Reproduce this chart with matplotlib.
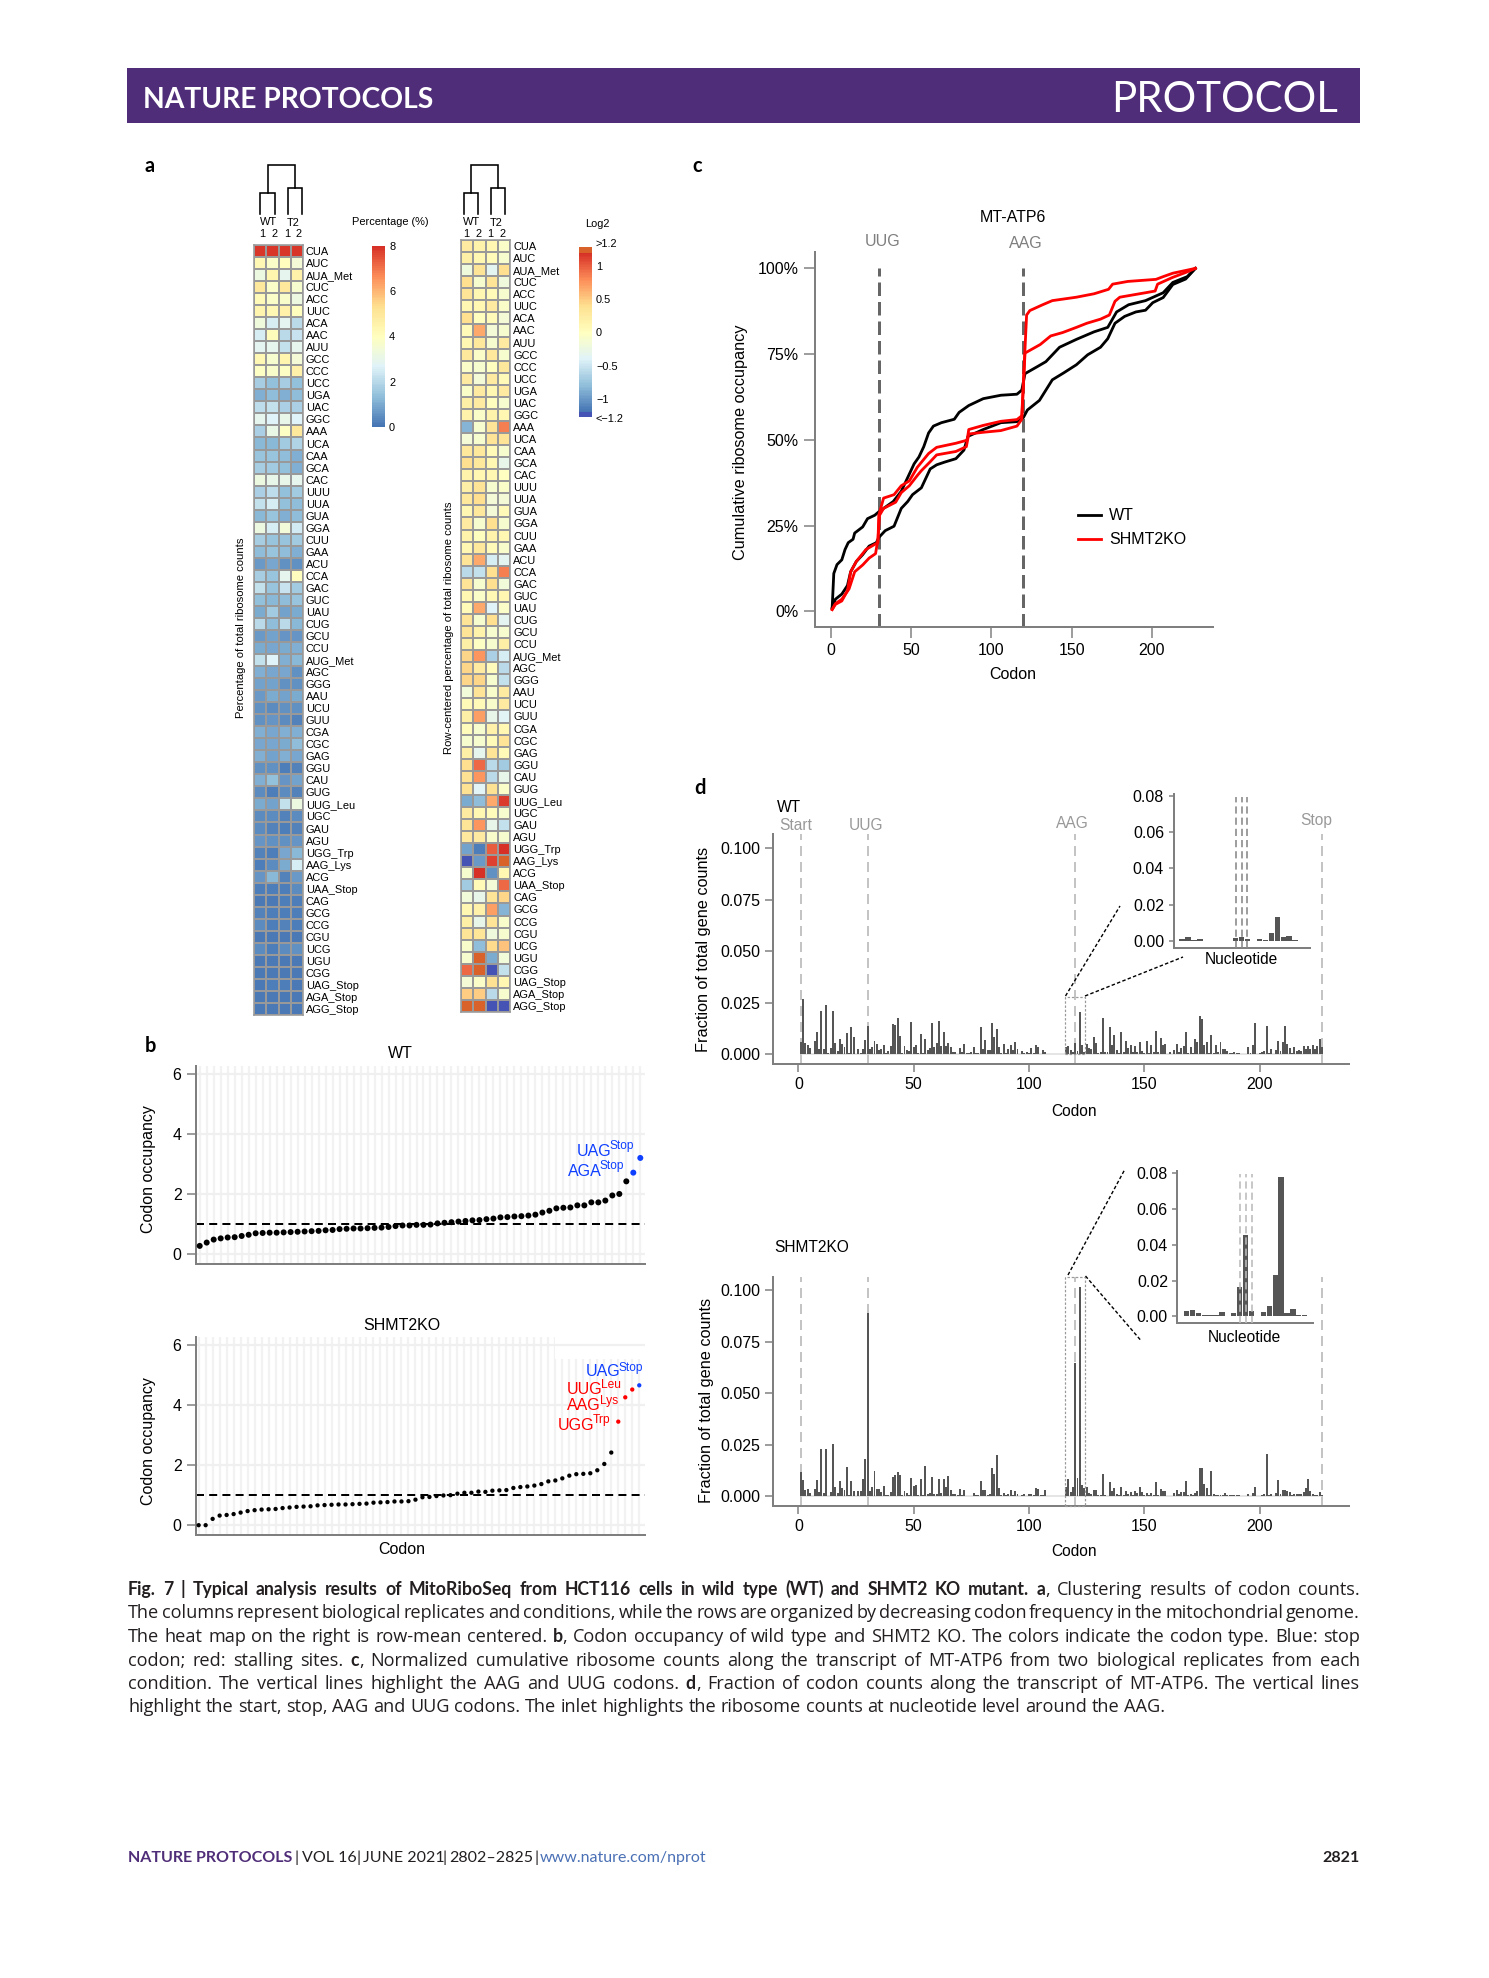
import re
import numpy as np
from matplotlib import pyplot as plt
from matplotlib.colors import LinearSegmentedColormap, Normalize
from matplotlib.lines import Line2D
from matplotlib.patches import Rectangle

W, H = 1489, 1978
plt.rcParams['font.family'] = ['Liberation Sans', 'DejaVu Sans']

### Data
codons = ['CUA','AUC','AUA_Met','CUC','ACC','UUC','ACA','AAC','AUU','GCC','CCC','UCC','UGA','UAC','GGC','AAA',
          'UCA','CAA','GCA','CAC','UUU','UUA','GUA','GGA','CUU','GAA','ACU','CCA','GAC','GUC','UAU','CUG',
          'GCU','CCU','AUG_Met','AGC','GGG','AAU','UCU','GUU','CGA','CGC','GAG','GGU','CAU','GUG','UUG_Leu','UGC',
          'GAU','AGU','UGG_Trp','AAG_Lys','ACG','UAA_Stop','CAG','GCG','CCG','CGU','UCG','UGU','CGG','UAG_Stop','AGA_Stop','AGG_Stop']

# percentage of total ribosome counts, columns WT1 WT2 T21 T22
pct_values = [[7.9,7.9,7.9,7.9],[4.3,3.8,4.0,3.5],[3.2,4.4,2.9,4.6],[5.0,3.8,5.0,3.6],[4.2,3.8,3.7,3.2],[4.4,4.3,4.6,4.0],
    [3.3,2.5,2.8,2.0],[2.5,4.1,2.0,2.3],[2.8,2.9,2.2,2.9],[4.3,3.6,4.4,3.5],[3.9,3.7,3.9,4.6],[1.7,1.4,1.7,1.4],
    [1.1,1.3,1.1,1.3],[2.1,2.2,1.8,1.8],[2.9,2.7,3.0,2.7],[1.8,3.1,3.9,5.0],[1.2,1.2,1.6,1.9],[1.5,1.5,1.3,1.1],
    [1.7,1.6,1.4,1.1],[3.2,3.0,3.0,2.9],[1.8,2.1,1.4,1.6],[2.2,2.5,1.4,1.3],[1.2,1.5,1.1,1.3],[3.2,2.5,3.4,2.4],
    [1.7,1.5,1.5,1.6],[1.3,1.5,1.3,1.1],[0.7,0.9,0.5,0.5],[1.7,1.5,2.9,4.0],[2.2,1.5,2.3,1.6],[1.4,1.2,1.3,1.5],
    [1.0,1.6,0.8,1.0],[2.0,1.3,2.0,1.2],[0.7,0.8,0.6,0.6],[1.0,0.9,1.0,1.1],[2.2,2.7,1.1,1.2],[1.1,0.9,0.9,0.5],
    [0.8,0.8,0.5,0.5],[0.7,1.0,0.8,1.0],[0.5,0.4,0.5,0.5],[0.5,0.6,0.4,0.3],[1.1,0.9,1.1,1.1],[0.9,0.9,1.0,1.3],
    [1.1,0.8,1.1,0.9],[0.5,0.5,0.2,0.3],[1.1,1.4,0.6,0.8],[0.4,0.2,0.4,0.3],[1.0,0.8,2.2,3.2],[0.4,0.4,0.3,0.4],
    [0.4,0.3,0.2,0.3],[0.6,0.5,0.5,0.6],[0.3,0.2,0.9,1.2],[0.2,0.4,1.0,2.5],[0.6,1.2,0.3,0.7],[0.2,0.2,0.2,0.4],
    [0.1,0.1,0.2,0.2],[0.3,0.2,0.2,0.2],[0.4,0.2,0.3,0.2],[0.1,0.1,0.1,0.1],[0.4,0.2,0.4,0.5],[0.1,0.1,0.1,0.1],
    [0.1,0.1,0.1,0.1],[0.1,0.2,0.2,0.1],[0.1,0.1,0.1,0.1],[0.1,0.1,0.1,0.1]]

# row centered log2 values
log2_values = [[.25,.15,.1,-.05],[.2,.1,.05,-.1],[-.2,.35,-.35,.4],[.4,-.1,.35,-.2],[.35,.1,.05,-.1],[.1,.1,.25,-.05],
    [.4,0,.05,-.15],[.05,.65,-.15,-.1],[.1,.3,-.1,.25],[.3,-.05,.3,-.1],[-.05,-.1,0,.3],[.25,-.15,.25,.05],
    [-.05,.25,.1,.25],[.2,.25,0,-.1],[.15,-.05,.15,.1],[-.85,-.1,.35,.85],[-.15,-.1,.35,.35],[.3,.3,.05,-.1],
    [.4,.3,.1,-.3],[.15,.1,.1,-.02],[.2,.35,-.1,-.05],[.3,.4,-.15,-.15],[.1,.3,-.15,.05],[.25,-.1,.4,-.1],
    [.15,0,.15,.1],[.1,.3,.05,-.08],[.35,.65,-.45,-.35],[-.6,-.55,.4,.85],[.35,-.12,.4,-.18],[.1,-.05,.08,.12],
    [.05,.65,-.4,-.05],[.35,-.1,.4,-.35],[.35,.15,-.1,-.12],[.2,-.03,-.1,.2],[.45,.75,-.65,-.45],[.45,.25,.03,-.6],
    [.45,.45,-.12,-.55],[-.17,.35,-.08,.25],[.05,.05,-.08,.25],[.2,.7,-.3,-.38],[.04,-.1,.18,.12],[-.12,-.1,.05,.35],
    [.2,-.32,.35,.05],[.4,.95,-.6,-.7],[.38,.75,-.6,-.3],[.38,-.38,.38,-.07],[-.9,-.8,.65,1.15],[.25,.1,.03,-.1],
    [.35,.75,-.3,-.55],[.28,.25,-.08,-.12],[-.95,-1.15,1.0,1.2],[-1.3,-1.0,1.12,1.3],[-.1,1.2,-1.05,.12],[-.7,.05,-.15,.95],
    [-.18,-.3,.35,.45],[.12,.18,.7,-.85],[.2,-.3,.35,-.08],[.35,.33,-.2,-.12],[-.08,-.8,.42,.55],[-.12,1.3,-.9,-.18],
    [.95,1.3,-1.3,-.55],[-.15,-.05,.38,.1],[.5,.5,-.6,-.12],[1.3,1.3,-1.3,-1.3]]

occupancy_wt = [.27,.38,.48,.52,.55,.56,.6,.64,.69,.7,.71,.71,.72,.73,.74,.75,.76,.77,.79,.8,.83,.84,.85,.85,.86,.87,.88,.9,.93,.95,.95,.97,
    .97,.98,1.02,1.04,1.06,1.08,1.1,1.12,1.13,1.16,1.18,1.22,1.23,1.25,1.26,1.28,1.31,1.38,1.44,1.52,1.54,1.55,1.62,1.62,1.72,1.72,1.78,1.95,2.0,2.42,2.71,3.2]
occupancy_ko = [.01,.01,.22,.33,.35,.38,.43,.48,.51,.53,.54,.55,.58,.6,.62,.63,.64,.67,.68,.69,.7,.7,.71,.72,.73,.76,.77,.78,.8,.8,.81,.86,
    .94,.95,.98,1.0,1.01,1.06,1.09,1.09,1.13,1.12,1.16,1.17,1.18,1.25,1.28,1.3,1.33,1.38,1.47,1.5,1.57,1.66,1.71,1.72,1.74,1.84,2.05,2.43,3.46,4.27,4.53,4.67]

wt1_x = [1,2,4,7,9,11,14,15,20,23,27.5,30,33,39,44,48,52,55,58,61,64,69,77,80,86,95,106,116,119,121,128.5,134,142.5,153,164,172.5,178,185.5,196,207,213,222,227]
wt1_y = [1,11,13.6,15,18,20,21,22.8,24.6,27,28,29,30,32,35,39,43,45,48,52,54,55,56,58,60,62,63,63.3,64.5,69.3,71.3,72.8,77,79.3,81.5,82.8,87.3,89.4,90.6,92.9,95.9,97.6,100]
wt2_x = [1,3,7,10.5,12.5,16,20,24,28.5,30,34,39.5,44,48,51,56.5,62,66,71,78,83,85.5,95,106,116,120,122.5,130,134,138,145,153,160,168,172.5,177,183,190,196,200.5,207,213,221,227]
wt2_y = [1,3.5,5,7.5,11.5,14.5,16.5,19,20,21.5,23.5,24.8,30,32,34,36,41.5,42.7,43.5,44.5,47,51,53,55,55.3,56.5,58.7,61.5,64.5,67.5,69.5,71.9,74.8,77,79.5,84,86,87.3,87.8,90,91.5,95.3,96.9,100]
ko1_x = [1,3,7,10.5,12.5,16,22,27.5,29.5,30,33,39.5,44,49,54,61,66,78,85,86,95,106,116,119,122,124,132,138,153,164,173,175.5,185,202.5,207,213,227]
ko1_y = [.5,2,3,6,11.5,14.5,18,19.5,20,28,33,34,36.6,38,42,46,47.8,49,49.9,53,54.2,55.4,55.9,57,86.4,87.7,89.4,90.6,91.6,92.6,93.9,95.4,96.2,96.8,97.6,98.6,100]
ko2_x = [1,3,7,11.5,15,20,24,28,29.5,30.5,33,40.5,44,49,54,56.5,62,66,78,84.5,86,95,106,116,119,121,130.5,137,144.5,153,159.5,168,173.5,177,180,196,202,203.5,213,221.5,227]
ko2_y = [.5,2.2,3.5,6.5,11.5,13.5,15.5,16.8,21,28,30,31.8,34.6,36.6,39.6,41,43.6,45.6,46.6,48,51.7,52.2,52.7,54,56,75.3,77.8,80.3,81.3,82.8,84,85.2,86.4,90.4,91.6,92.9,93.4,95.4,97.4,98.9,100]

fraction_wt = [.006,.0267,.0053,.0045,.0032,.0002,.0066,.011,.0026,.021,.0024,.0238,.0005,.0029,.021,.0055,.0016,.0076,.005,.0036,
    .0105,.0005,.0131,.0086,.0002,.0026,.0008,.0024,.0068,.0138,.0026,.0035,.0065,.005,.002,.0026,.0045,.0008,.0016,.0039,
    .0146,.0143,.0175,.0089,.0005,.0042,.0019,.0016,.0156,.0037,.0045,.0005,.0099,.0008,.0075,.0021,.0032,.0154,.0037,.0053,
    .0164,.004,.011,.004,.0057,.0037,.0011,.001,.0002,.0031,.0013,.005,.0005,.0005,.0013,.0034,.0008,.0006,.0131,.0024,
    .007,.0021,.0019,.0154,.0083,.0123,.0034,.0005,.0049,.0005,.0024,.0045,.0023,.006,.0026,.0003,.0015,.0005,.0013,.0005,
    .0029,.0005,.0045,.0037,.0003,.0023,.0013,.0003,.0001,.0001,.0001,.0001,.0001,.0001,.0003,.0034,.004,.0021,.0013,.0057,
    .0016,.0206,.0044,.0011,.005,.0031,.0028,.0083,.0053,.0005,.0011,.0177,.001,.0011,.0133,.0045,.0096,.0021,.0005,.011,
    .001,.0063,.0029,.0044,.0011,.004,.0013,.006,.0018,.0005,.0065,.0008,.0044,.001,.0112,.0011,.0078,.0045,.0049,.0002,
    .0011,.0003,.0021,.0049,.0011,.0031,.004,.0107,.0005,.0034,.0006,.0073,.0058,.0188,.017,.0045,.0058,.0006,.0092,.0005,
    .0047,.0011,.0058,.0026,.0024,.0016,.0006,.0005,.0011,.0008,.0006,.0003,.0002,.0002,.0034,.0005,.0044,.0151,.0003,.0005,
    .0013,.0015,.0138,.0005,.0024,.0003,.0021,.0065,.0016,.0058,.0138,.005,.0029,.0005,.0037,.0015,.0021,.0018,.004,.0024,
    .0042,.0024,.0045,.0024,.004,.0075,.0034]
fraction_ko = [.0118,.0078,.0029,.0032,.0013,.0002,.0034,.0079,.0018,.0227,.0013,.0227,.0002,.0018,.0251,.0044,.0013,.0073,.0039,.0028,
    .0139,.0003,.0075,.0024,.0002,.0023,.0023,.0081,.0178,.089,.0023,.0045,.0121,.0034,.0036,.0018,.0047,.0005,.0006,.0021,
    .0091,.01,.0115,.0104,.0006,.0024,.0013,.0005,.0089,.005,.0055,.0005,.0083,.0003,.0146,.0011,.0013,.0092,.0011,.0011,
    .0083,.0013,.0083,.0044,.0096,.0029,.0011,.0008,.0003,.0032,.0005,.0029,.0002,.0001,.0002,.0013,.0005,.0003,.0073,.0029,
    .0028,.0006,.0008,.0136,.0109,.0198,.0041,.0003,.0015,.0006,.001,.0029,.0006,.0023,.0008,.0002,.0003,.0008,.0002,.001,
    .0008,.0006,.0037,.0032,.0003,.0006,.0028,.0001,.0001,.0001,.0001,.0001,.0001,.0001,.0001,.0044,.0083,.0021,.0045,.0645,
    .0086,.1015,.0053,.0037,.0045,.0013,.0011,.0029,.0029,.0003,.0003,.0107,.0003,.0002,.0068,.0024,.0037,.001,.0003,.0042,
    .0005,.0024,.0008,.0019,.0006,.0024,.0013,.0042,.0018,.0005,.0015,.0003,.0013,.0005,.0068,.0006,.0032,.0024,.0023,.0002,
    .0002,.0001,.0016,.0029,.001,.0019,.0018,.0075,.0006,.0011,.0006,.0013,.0024,.0136,.0134,.006,.0041,.0005,.0123,.0008,
    .0005,.0005,.0006,.0006,.0013,.0005,.0003,.0005,.0005,.0006,.0003,.0002,.0001,.0002,.001,.0002,.0013,.0042,.0001,.0002,
    .0005,.0008,.0203,.0006,.0008,.0002,.0013,.0079,.0011,.0028,.0031,.0024,.0019,.0005,.001,.0008,.0008,.0008,.0018,.0039,
    .0081,.0023,.0008,.0003,.0006,.0019,.0006]
inset_wt = [.0012,.0022,.0005,.0013,.0002,.0001,.0002,.0002,.0003,.0016,.0025,.0012,.0001,.0011,.0007,.0047,.0132,.0025,.0031,.0006,.0002]
inset_ko = [.0032,.0033,.0017,.0009,.0007,.0006,.0024,.0004,.0017,.0162,.0456,.003,.0004,.0022,.0058,.0229,.0776,.002,.0039,.0009,.0006]

caption = [
    "**Fig. 7 | Typical analysis results of MitoRiboSeq from HCT116 cells in wild type (WT) and SHMT2 KO mutant. a**, Clustering results of codon counts.",
    "The columns represent biological replicates and conditions, while the rows are organized by decreasing codon frequency in the mitochondrial genome.",
    "The heat map on the right is row-mean centered. **b**, Codon occupancy of wild type and SHMT2 KO. The colors indicate the codon type. Blue: stop",
    "codon; red: stalling sites. **c**, Normalized cumulative ribosome counts along the transcript of MT-ATP6 from two biological replicates from each",
    "condition. The vertical lines highlight the AAG and UUG codons. **d**, Fraction of codon counts along the transcript of MT-ATP6. The vertical lines",
    "highlight the start, stop, AAG and UUG codons. The inlet highlights the ribosome counts at nucleotide level around the AAG.",
]

### Helpers, everything placed in pixels of the page
fig = plt.figure(figsize=(W/100, H/100), dpi=100)
rend = fig.canvas.get_renderer()
SANS = ['Lato', 'DejaVu Sans']
BODY = ['Open Sans', 'DejaVu Sans']
PURPLE = '#4F2D78'
GREY = '#7F7F7F'

def pt(px):
    return px*0.72

def txt(x, y, s, size, ha='center', va='center', **kw):
    return fig.text(x/W, 1-y/H, s, fontsize=pt(size), ha=ha, va=va, **kw)

def axes_px(left, top, right, bottom):
    return fig.add_axes([left/W, 1-bottom/H, (right-left)/W, (bottom-top)/H])

def seg(xs, ys, **kw):
    fig.add_artist(Line2D([x/W for x in xs], [1-y/H for y in ys], transform=fig.transFigure, **kw))

def plain_axes(ax, size=16, tick=8):
    ax.spines[['top', 'right']].set_visible(False)
    ax.spines[['left', 'bottom']].set_color(GREY)
    ax.spines[['left', 'bottom']].set_linewidth(pt(2))
    ax.tick_params(length=pt(tick), width=pt(1.5), color=GREY, labelsize=pt(size), pad=pt(5))

def dendro(xs, top, left_top, right_top, bottom):
    mid_l = (xs[0]+xs[1])/2
    mid_r = (xs[2]+xs[3])/2
    kw = dict(color='black', lw=pt(1.6), solid_joinstyle='miter')
    seg([mid_l, mid_l, mid_r, mid_r], [left_top, top, top, right_top], **kw)
    seg([xs[0], xs[0], xs[1], xs[1]], [bottom, left_top, left_top, bottom], **kw)
    seg([xs[2], xs[2], xs[3], xs[3]], [bottom, right_top, right_top, bottom], **kw)

### Page furniture
fig.add_artist(Rectangle((127/W, 1-122.5/H), 1233/W, 54.5/H, transform=fig.transFigure, color=PURPLE, lw=0))
txt(143, 100, 'NATURE PROTOCOLS', 28.2, ha='left', color='white', weight='bold', family=SANS)
txt(1338, 100, 'PROTOCOL', 42, ha='right', color='white', family=SANS)
for lx, ly, s in [(150, 166, 'a'), (150, 1046, 'b'), (697, 166, 'c'), (700, 788, 'd')]:
    txt(lx, ly, s, 20, weight='bold', family=SANS)

def measure(s, weight, size, family):
    t = txt(0, 0, s, size, weight=weight, family=family)
    w = t.get_window_extent(rend).width
    t.remove()
    return w

def caption_line(y, line, justify=True):
    # words are glued pieces, ** switches the bold on and off
    words = []
    bold = caption_line.bold
    for word in line.split(' '):
        pieces = []
        for i, piece in enumerate(re.split(r'\*\*', word)):
            if i > 0:
                bold = not bold
            if piece:
                if bold:
                    pieces.append((piece, 'bold', 17.6, SANS))
                else:
                    pieces.append((piece, 'normal', 18.2, BODY))
        words.append(pieces)
    caption_line.bold = bold
    widths = [sum(measure(p, w, s, f) for p, w, s, f in pieces) for pieces in words]
    space = 4.6
    if justify:
        space = (1360-128-sum(widths))/(len(words)-1)
    x = 128
    for pieces, width in zip(words, widths):
        for p, w, s, f in pieces:
            txt(x, y, p, s, ha='left', va='baseline', weight=w, color='#231F20', family=f)
            x += measure(p, w, s, f)
        x += space
caption_line.bold = False

for i, line in enumerate(caption):
    caption_line(1595+i*23.5, line, justify=i < len(caption)-1)

footer = [(128, 'NATURE PROTOCOLS', PURPLE, 'bold'), (294, '|', '#231F20', 'normal'), (302, 'VOL 16', '#231F20', 'normal'),
          (357, '|', '#231F20', 'normal'), (363, 'JUNE 2021', '#231F20', 'normal'), (443, '|', '#231F20', 'normal'),
          (449, '2802–2825', '#231F20', 'normal'), (534, '|', '#231F20', 'normal'), (540, 'www.nature.com/nprot', '#4A70B5', 'normal')]
for fx, s, c, w in footer:
    txt(fx, 1858, s, 16, ha='left', color=c, weight=w, family=SANS)
txt(1360, 1858, '2821', 16, ha='right', color='#231F20', weight='bold', family=SANS)

### Panel a
pal = ['#4575B4', '#91BFDB', '#E0F3F8', '#FFFFBF', '#FEE090', '#FC8D59', '#D73027']
cmap = LinearSegmentedColormap.from_list('rdylbu', pal, N=100)
cmap.set_over('#D9622B')
cmap.set_under('#4453B4')

def heat(left, top, right, bottom, values, norm):
    ax = axes_px(left, top, right, bottom)
    m = ax.pcolormesh(np.array(values), cmap=cmap, norm=norm, edgecolors='#999999', linewidth=pt(1.6))
    ax.set_ylim(len(codons), 0)
    ax.set_xticks([])
    ax.set_yticks(np.arange(len(codons))+.5, codons)
    ax.yaxis.tick_right()
    ax.tick_params(length=0, labelsize=pt(11), pad=pt(3))
    for s in ax.spines.values():
        s.set_color('#999999')
        s.set_linewidth(pt(1.6))
    return m

m1 = heat(254, 245, 303, 1015, pct_values, Normalize(0, 8))
m2 = heat(461, 240, 510, 1012, log2_values, Normalize(-1.2, 1.2))

cax1 = axes_px(372, 246, 385, 427)
cb1 = fig.colorbar(m1, cax=cax1, ticks=[0, 2, 4, 6, 8])
cb1.outline.set_visible(False)
cax1.tick_params(length=0, labelsize=pt(11), pad=pt(4))

cax2 = axes_px(579, 247, 592, 417)
cb2 = fig.colorbar(m2, cax=cax2, ticks=[-1, -.5, 0, .5, 1], extend='both', extendrect=True, extendfrac=(.03, .035))
cb2.outline.set_visible(False)
cb2.set_ticklabels(['\u22121', '\u22120.5', '0', '0.5', '1'])
cax2.tick_params(length=0, labelsize=pt(11), pad=pt(4))
txt(596, 244, '>1.2', 11, ha='left')
txt(596, 419, '<\u22121.2', 11, ha='left')

txt(390, 222, 'Percentage (%)', 11)
txt(597, 224, 'Log2', 11)
txt(241, 628, 'Percentage of total ribosome counts', 11.2, rotation=90)
txt(449.5, 628, 'Row-centered percentage of total ribosome counts', 11.2, rotation=90)

dendro([260, 275, 287.5, 301.5], 165, 192.5, 188, 213.5)
dendro([463.5, 478, 491, 505], 165, 192.5, 188, 213.5)
for x0, y0, s in [(269, 222, 'WT'), (293, 223, 'T2'), (262, 234, '1'), (274, 234, '2'), (287, 234, '1'), (299, 234, '2'),
                  (472, 222, 'WT'), (496, 223, 'T2'), (466, 234, '1'), (478, 234, '2'), (490, 234, '1'), (502, 234, '2')]:
    txt(x0, y0, s, 11)

### Panel b
def occupancy(top, bottom, values, colors, dot, xlim, title, title_x, title_y, label_x, label_y):
    ax = axes_px(195.5, top, 644.5, bottom)
    n = np.arange(1, 65)
    for i in n:
        ax.axvline(i, color='#F2F2F2', lw=1.6, zorder=1)
    for v in [0, 2, 4, 6]:
        ax.axhline(v, color='#F0F0F0', lw=1.6, zorder=1.2)
    ax.axhline(1, color='black', lw=pt(2), ls=(0, (4, 2.6)), zorder=2)
    ax.scatter(n, values, s=pt(dot)**2, c=colors, linewidths=0, zorder=3)
    ax.set_xlim(*xlim)
    ax.set_ylim(-.317, 6.28)
    ax.set_xticks([])
    ax.set_yticks([0, 2, 4, 6])
    plain_axes(ax, tick=9)
    txt(title_x, title_y, title, 16)
    txt(label_x, label_y, 'Codon occupancy', 16, rotation=90)
    return ax

BLUE = '#1040FF'
occupancy(1065.5, 1263.5, occupancy_wt, ['black']*62+[BLUE]*2, 6, (.4, 64.6), 'WT', 400, 1053, 148, 1169.5)
ax_ko = occupancy(1337, 1535, occupancy_ko, ['black']*60+['#FF0000']*3+[BLUE], 4.3, (.55, 64.75), 'SHMT2KO', 402, 1325, 149, 1441)
ax_ko.add_patch(Rectangle((51.9, 5.56), 13, .8, color='white', lw=0, zorder=1.1))
txt(402, 1550, 'Codon', 16)

for x0, y0, s, c, x1, y1, sup in [(577, 1151, 'UAG', BLUE, 610, 1146.5, 'Stop'), (568, 1171, 'AGA', BLUE, 600, 1165.5, 'Stop'),
                                  (586, 1372, 'UAG', BLUE, 619, 1367.5, 'Stop'), (567, 1389, 'UUG', '#FF0000', 601, 1384.5, 'Leu'),
                                  (567, 1405, 'AAG', '#FF0000', 600, 1401, 'Lys'), (558, 1426, 'UGG', '#FF0000', 593, 1420.5, 'Trp')]:
    txt(x0, y0, s, 16, ha='left', color=c)
    txt(x1, y1, sup, 12, ha='left', color=c)

### Panel c
ax = axes_px(814.5, 251.6, 1213, 627)
for v in [30, 120]:
    ax.axvline(v, ymax=.955, color='#666666', lw=pt(3), ls=(0, (4.5, 2)))
ax.plot(wt1_x, wt1_y, color='black', lw=pt(2.8), label='WT')
ax.plot(wt2_x, wt2_y, color='black', lw=pt(2.8))
ax.plot(ko1_x, ko1_y, color='#FF0000', lw=pt(2.8), label='SHMT2KO')
ax.plot(ko2_x, ko2_y, color='#FF0000', lw=pt(2.8))
ax.set_xlim(-10, 238)
ax.set_ylim(-4.6, 104.9)
ax.set_xticks([0, 50, 100, 150, 200])
ax.set_yticks([0, 25, 50, 75, 100], ['0%', '25%', '50%', '75%', '100%'])
plain_axes(ax, tick=11)
ax.legend(loc='upper left', bbox_to_anchor=(1075/W, 1-505/H), bbox_transform=fig.transFigure, frameon=False,
          fontsize=pt(16), handlelength=1.44, handletextpad=.5, labelspacing=.58, borderpad=0.2, borderaxespad=0)
txt(1013, 218, 'MT-ATP6', 16)
txt(883, 242, 'UUG', 16, color=GREY)
txt(1026, 243, 'AAG', 16, color=GREY)
txt(1013, 674.5, 'Codon', 16)
txt(740.5, 442.5, 'Cumulative ribosome occupancy', 16.2, rotation=90)

### Panel d
def fractions(top, bottom, values, ylim, rect_top, rect_bottom):
    ax = axes_px(773, top, 1349, bottom)
    for v in [1, 30, 120, 227]:
        ax.axvline(v, color='#C4C4C4', lw=pt(2), ls=(0, (5, 3)), zorder=1)
    codon = np.arange(1, len(values)+1)
    ax.hlines(0, 1, 227, color='#DDDDDD', lw=pt(1.5), zorder=1.5)
    ax.bar(codon, values, width=.85, color='#555555', zorder=2)
    ax.add_patch(Rectangle((115.8, rect_bottom), 8.4, rect_top-rect_bottom, fill=False, ec='#999999', lw=pt(1.2),
                           ls=(0, (2, 1.5)), zorder=3, clip_on=False))
    ax.set_xlim(-11, 238.7)
    ax.set_ylim(*ylim)
    ax.set_xticks([0, 50, 100, 150, 200])
    ax.set_yticks([0, .025, .05, .075, .1], ['0.000', '0.025', '0.050', '0.075', '0.100'])
    plain_axes(ax, tick=8)
    return ax

def inset(left, top, right, bottom, values, xlim, ylim, line_color, line_top, xlabel_x, xlabel_y):
    ax = axes_px(left, top, right, bottom)
    ax.patch.set_alpha(0)
    ax.bar(np.arange(1, 22), values, width=.9, color='#555555', zorder=2)
    ax.vlines([10, 11, 12], ylim[0], line_top, color=line_color, lw=pt(1.6), ls=(0, (4.5, 2.5)), zorder=3)
    ax.set_xlim(*xlim)
    ax.set_ylim(*ylim)
    ax.set_xticks([])
    ax.set_yticks([0, .02, .04, .06, .08], ['0.00', '0.02', '0.04', '0.06', '0.08'])
    plain_axes(ax, tick=5.5)
    ax.tick_params(pad=pt(4))
    txt(xlabel_x, xlabel_y, 'Nucleotide', 15.5)

fractions(834, 1064.3, fraction_wt, (-.00485, .1069), .028, .0)
fractions(1276.7, 1506.3, fraction_ko, (-.00501, .1066), .1066, -.00501)
inset(1173.5, 794, 1310, 947.7, inset_wt, (-.43, 22.5), (-.0035, .0809), '#888888', .079, 1241.5, 960)
inset(1177.4, 1170.7, 1313, 1323, inset_ko, (-.54, 22.4), (-.0037, .0813), '#BBBBBB', .0795, 1244.5, 1338)

dash = dict(color='black', lw=pt(1.4), ls=(0, (2.5, 1.6)))
seg([1065.5, 1120], [996, 906], **dash)
seg([1085, 1183], [996, 957], **dash)
seg([1068, 1124.5], [1275, 1170], **dash)
seg([1085.5, 1140.5], [1276, 1340], **dash)

txt(789, 808, 'WT', 15.5)
txt(812, 1248, 'SHMT2KO', 15.5)
lab = '#999999'
txt(796, 826, 'Start', 15.5, color=lab)
txt(865.5, 826, 'UUG', 15.5, color=lab)
txt(1072, 823, 'AAG', 15.5, color=lab)
txt(1316, 821, 'Stop', 15.5, color=lab)
txt(1074.5, 1112, 'Codon', 15.5)
txt(1074.5, 1552, 'Codon', 15.5)
txt(703.5, 949, 'Fraction of total gene counts', 16.2, rotation=90)
txt(707, 1400, 'Fraction of total gene counts', 16.2, rotation=90)

fig.savefig('out.png', dpi=100)
